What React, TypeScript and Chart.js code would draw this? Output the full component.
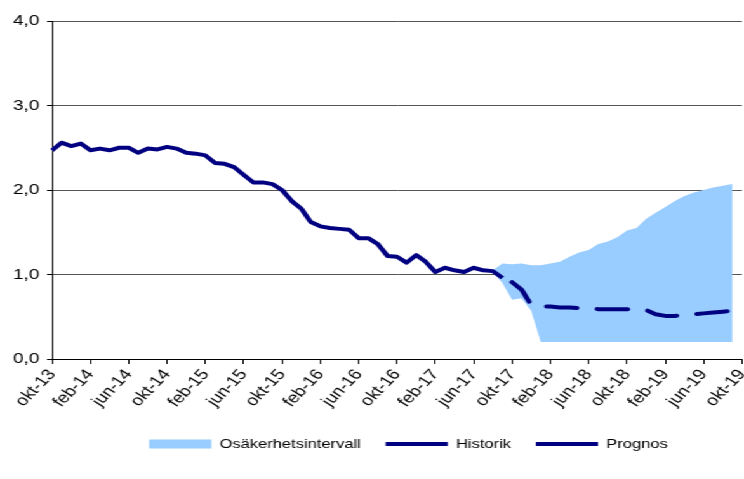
import React, { useEffect, useRef } from 'react';
import { Chart, registerables } from 'chart.js';

Chart.register(...registerables);

const categories = [
  'okt-13', 'nov-13', 'dec-13',
  'jan-14', 'feb-14', 'mar-14', 'apr-14', 'maj-14', 'jun-14', 'jul-14', 'aug-14', 'sep-14', 'okt-14', 'nov-14', 'dec-14',
  'jan-15', 'feb-15', 'mar-15', 'apr-15', 'maj-15', 'jun-15', 'jul-15', 'aug-15', 'sep-15', 'okt-15', 'nov-15', 'dec-15',
  'jan-16', 'feb-16', 'mar-16', 'apr-16', 'maj-16', 'jun-16', 'jul-16', 'aug-16', 'sep-16', 'okt-16', 'nov-16', 'dec-16',
  'jan-17', 'feb-17', 'mar-17', 'apr-17', 'maj-17', 'jun-17', 'jul-17', 'aug-17', 'sep-17', 'okt-17', 'nov-17', 'dec-17',
  'jan-18', 'feb-18', 'mar-18', 'apr-18', 'maj-18', 'jun-18', 'jul-18', 'aug-18', 'sep-18', 'okt-18', 'nov-18', 'dec-18',
  'jan-19', 'feb-19', 'mar-19', 'apr-19', 'maj-19', 'jun-19', 'jul-19', 'aug-19', 'sep-19', 'okt-19',
];

// okt-13 .. sep-17
const historik = [
  2.47, 2.56, 2.52, 2.55, 2.47, 2.49, 2.47, 2.50, 2.50, 2.44, 2.49, 2.48,
  2.51, 2.49, 2.44, 2.43, 2.41, 2.32, 2.31, 2.27, 2.18, 2.09, 2.09, 2.07,
  2.00, 1.87, 1.78, 1.62, 1.57, 1.55, 1.54, 1.53, 1.43, 1.43, 1.36, 1.22,
  1.21, 1.14, 1.23, 1.15, 1.03, 1.08, 1.05, 1.03, 1.08, 1.05, 1.04, 0.96,
];
const historikStart = 'okt-13';

// okt-17 .. sep-19
const prognos = [
  0.91, 0.82, 0.64, 0.62, 0.62, 0.61, 0.61, 0.60, 0.60, 0.59, 0.59, 0.59,
  0.59, 0.59, 0.58, 0.53, 0.51, 0.51, 0.52, 0.53, 0.54, 0.55, 0.56, 0.57,
];
const prognosStart = 'okt-17';

// aug-17 .. sep-19
const bandUpper = [
  1.05, 1.13, 1.12, 1.13, 1.11, 1.11, 1.13, 1.15, 1.21, 1.26, 1.29, 1.36, 1.39,
  1.44, 1.52, 1.55, 1.66, 1.73, 1.80, 1.87, 1.93, 1.97, 2.00, 2.03, 2.05, 2.07,
];
const bandLower = [
  1.03, 0.90, 0.70, 0.72, 0.57, 0.20, 0.20, 0.20, 0.20, 0.20, 0.20, 0.20, 0.20,
  0.20, 0.20, 0.20, 0.20, 0.20, 0.20, 0.20, 0.20, 0.20, 0.20, 0.20, 0.20, 0.20,
];
const bandStart = 'aug-17';

const yTickLabels = ['0,0', '1,0', '2,0', '3,0', '4,0'];

const FONT = "'Liberation Sans', Arial, sans-serif";
const CANVAS_W = 586;
const CANVAS_H = 479;
const SCALE_X = 744 / CANVAS_W;

function place(values: number[], startLabel: string): (number | null)[] {
  const out: (number | null)[] = categories.map(() => null);
  const start = categories.indexOf(startLabel);
  values.forEach((v, i) => {
    out[start + i] = v;
  });
  return out;
}

const legendShift = {
  id: 'legendShift',
  afterLayout(chart: any) {
    if (chart.legend) {
      chart.legend.left += 9;
      chart.legend.right += 9;
    }
  },
};

export default function App() {
  const ref = useRef<HTMLCanvasElement | null>(null);

  useEffect(() => {
    if (!ref.current) return;
    const chart = new Chart(ref.current, {
      type: 'line',
      data: {
        labels: categories,
        datasets: [
          {
            label: 'Osäkerhetsintervall',
            data: place(bandUpper, bandStart),
            borderWidth: 0,
            borderColor: 'rgba(0,0,0,0)',
            backgroundColor: '#99CCFF',
            fill: '+1',
            pointRadius: 0,
            pointStyle: 'rect',
            tension: 0,
          },
          {
            label: 'lower',
            data: place(bandLower, bandStart),
            borderWidth: 0,
            borderColor: 'rgba(0,0,0,0)',
            backgroundColor: '#99CCFF',
            fill: false,
            pointRadius: 0,
            tension: 0,
          },
          {
            label: 'Historik',
            data: place(historik, historikStart),
            borderColor: '#000080',
            backgroundColor: '#000080',
            borderWidth: 4,
            borderJoinStyle: 'round',
            fill: false,
            pointRadius: 0,
            pointStyle: 'line',
            tension: 0,
          },
          {
            label: 'Prognos',
            data: place(prognos, prognosStart),
            borderColor: '#000080',
            backgroundColor: '#000080',
            borderWidth: 4,
            borderDash: [24, 16],
            borderCapStyle: 'round',
            borderJoinStyle: 'round',
            fill: false,
            pointRadius: 0,
            pointStyle: 'line',
            tension: 0,
          },
        ],
      },
      options: {
        animation: false,
        responsive: false,
        devicePixelRatio: 1,
        layout: { padding: { top: 21, right: 1.6, bottom: 18.5, left: 0 } },
        scales: {
          x: {
            type: 'category',
            offset: false,
            grid: {
              drawOnChartArea: false,
              drawTicks: true,
              tickLength: 5,
              color: (ctx: any) => (ctx.index % 4 === 0 ? '#000' : 'rgba(0,0,0,0)'),
              tickColor: (ctx: any) => (ctx.index % 4 === 0 ? '#000' : 'rgba(0,0,0,0)'),
            },
            border: { color: '#000', width: 1 },
            ticks: {
              autoSkip: false,
              minRotation: 52,
              maxRotation: 52,
              padding: 2,
              color: '#000',
              font: { family: FONT, size: 15 },
              callback: (_v: any, i: number) => (i % 4 === 0 ? categories[i] : ''),
            },
            afterFit: (s: any) => {
              s.height = 59;
              s.paddingLeft = 0;
              s.paddingRight = 0;
            },
          },
          y: {
            min: 0,
            max: 4,
            grid: { color: '#555', lineWidth: 1, tickColor: '#000', tickLength: 4 },
            border: { color: '#000', width: 1 },
            ticks: {
              stepSize: 1,
              padding: 6,
              color: '#000',
              font: { family: FONT, size: 15 },
              callback: (_v: any, i: number) => yTickLabels[i],
            },
            afterFit: (s: any) => {
              s.width = 41;
            },
          },
        },
        plugins: {
          filler: { drawTime: 'beforeDatasetsDraw' },
          tooltip: { enabled: false },
          legend: {
            position: 'bottom',
            fullSize: false,
            labels: {
              filter: (item: any) => item.datasetIndex !== 1,
              usePointStyle: true,
              pointStyleWidth: 49,
              boxHeight: 9,
              padding: 19.5,
              color: '#000',
              font: { family: FONT, size: 13 },
            },
          },
        },
      } as any,
      plugins: [legendShift],
    });
    return () => chart.destroy();
  }, []);

  return (
    <div
      style={{
        position: 'absolute',
        left: 0,
        top: 0,
        width: CANVAS_W,
        height: CANVAS_H,
        transform: `scaleX(${SCALE_X})`,
        transformOrigin: '0 0',
        background: '#fff',
      }}
    >
      <canvas ref={ref} width={CANVAS_W} height={CANVAS_H} style={{ width: CANVAS_W, height: CANVAS_H }} />
    </div>
  );
}
